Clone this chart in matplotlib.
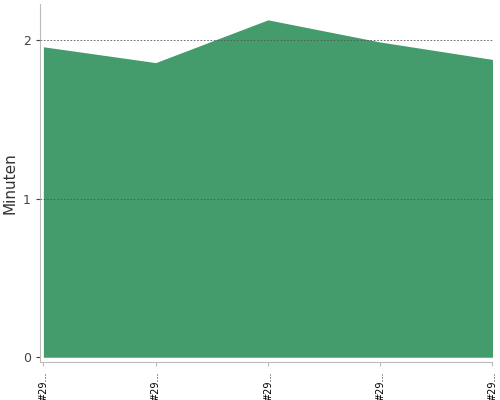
import matplotlib.pyplot as plt

labels = ['#29...', '#29...', '#29...', '#29...', '#29...']
minutes = [1.96, 1.86, 2.13, 1.99, 1.88]

fig = plt.figure(figsize=(5, 4), dpi=100)
ax = fig.add_axes([0.08, 0.095, 0.905, 0.895])
x = list(range(len(minutes)))
ax.fill_between(x, 0, minutes, color='#449c6c', linewidth=0, zorder=2)
ax.set_xlim(-0.03, 4.0)
ax.set_ylim(-0.03, 2.23)
ax.set_yticks([0, 1, 2])
ax.set_xticks(x)
ax.set_xticklabels(labels)
ax.tick_params(axis='y', labelsize=9, colors='#444444', length=3)
ax.tick_params(axis='x', length=3, color='#bbbbbb', labelcolor='black',
               labelsize=7, labelrotation=90)
for yv in [1, 2]:
    ax.axhline(yv, color='#555555', linestyle=(0, (2, 2)), linewidth=0.6, zorder=3)
ax.set_ylabel('Minuten', fontsize=11, color='#333333')
for s in ['top', 'right']:
    ax.spines[s].set_visible(False)
for s in ['left', 'bottom']:
    ax.spines[s].set_color('#bbbbbb')
ax.spines['bottom'].set_position(('data', -0.03))
plt.savefig('out.png', dpi=100)
